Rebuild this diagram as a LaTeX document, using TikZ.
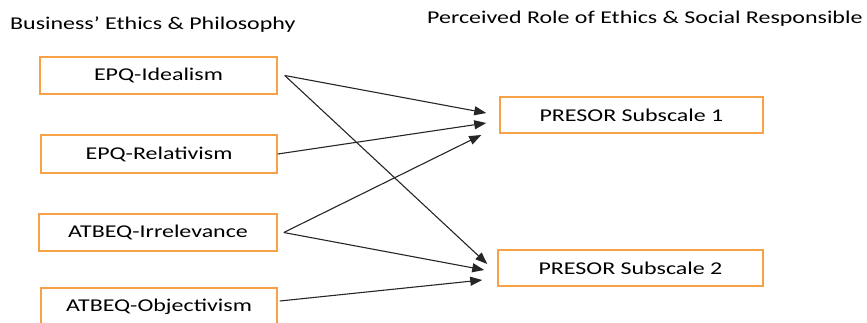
\documentclass[tikz,border=0pt]{standalone}
\usepackage{fontspec}
\setmainfont{Carlito}[FakeStretch=1.33]
\usetikzlibrary{arrows.meta,calc}
\newlength{\du}
\setlength{\du}{1pt}
\definecolor{boxorange}{rgb}{0.968627, 0.635294, 0.278431}
\tikzset{
  factorbox/.style={draw=boxorange, line width=1.5\du, fill=white, minimum height=37\du, inner sep=0pt, font=\fontsize{18}{20}\selectfont},
  heading/.style={anchor=west, inner sep=0pt, font=\fontsize{18}{20}\selectfont},
  linkarrow/.style={draw=black!85, line width=1.1pt, -{Triangle[length=12pt,width=9pt]}}
}
\begin{document}
\begin{tikzpicture}
\pgftransformxscale{1.000000}
\pgftransformyscale{-1.000000}
\useasboundingbox (0\du,0\du) rectangle (867\du,322\du);
% headings
\node[heading] (lefthead) at (10\du,25\du) {Business’ Ethics \& Philosophy};
\node[heading] (righthead) at (427\du,19\du) {Perceived Role of Ethics \& Social Responsible};
% left column
\node[factorbox, minimum width=237\du] (ide) at (158.5\du,75.5\du) {EPQ-Idealism};
\node[factorbox, minimum width=236\du, minimum height=38\du] (rel) at (159\du,154\du) {EPQ-Relativism};
\node[factorbox, minimum width=238\du] (irr) at (158\du,232.5\du) {ATBEQ-Irrelevance};
\node[factorbox, minimum width=236\du] (obj) at (159\du,306.5\du) {ATBEQ-Objectivism};
% right column
\node[factorbox, minimum width=263\du, minimum height=36\du] (sub1) at (631.5\du,115\du) {PRESOR Subscale 1};
\node[factorbox, minimum width=265\du, minimum height=36\du] (sub2) at (630.5\du,268\du) {PRESOR Subscale 2};
% ports
\coordinate (ideout) at ($(ide.east)+(7\du,0\du)$);
\coordinate (relout) at (rel.east);
\coordinate (irrout) at ($(irr.east)+(6\du,0\du)$);
\coordinate (objout) at ($(obj.east)+(2\du,-5.5\du)$);
\coordinate (subonea) at ($(sub1.west)+(-13\du,-2\du)$);
\coordinate (suboneb) at ($(sub1.west)+(-13\du,8\du)$);
\coordinate (subonec) at ($(sub1.west)+(-18\du,20\du)$);
\coordinate (subtwoa) at ($(sub2.west)+(-10\du,-4\du)$);
\coordinate (subtwob) at ($(sub2.west)+(-13\du,2\du)$);
\coordinate (subtwoc) at ($(sub2.west)+(-15\du,12\du)$);
% links
\draw[linkarrow] (ideout)--(subonea);
\draw[linkarrow] (ideout)--(subtwoa);
\draw[linkarrow] (relout)--(suboneb);
\draw[linkarrow] (irrout)--(subonec);
\draw[linkarrow] (irrout)--(subtwob);
\draw[linkarrow] (objout)--(subtwoc);
\end{tikzpicture}
\end{document}
